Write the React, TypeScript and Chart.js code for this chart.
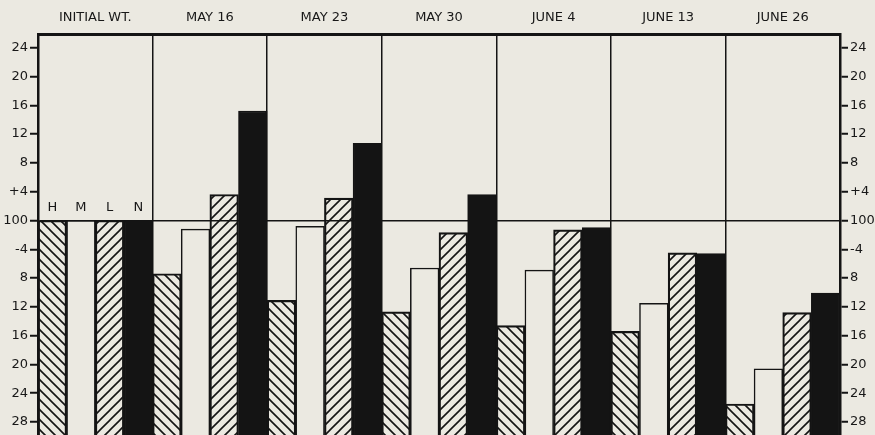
import React, { useEffect, useRef } from "react";
import { Chart, registerables } from "chart.js";

Chart.register(...registerables);

// ---- data ----
const categories = ["INITIAL WT.", "MAY 16", "MAY 23", "MAY 30", "JUNE 4", "JUNE 13", "JUNE 26"];
const seriesLabels = ["H", "M", "L", "N"];
const hValues = [0, -7.4, -11.1, -12.7, -14.6, -15.4, -25.5];
const mValues = [0, -1.2, -0.8, -6.6, -6.9, -11.5, -20.6];
const lValues = [0, 3.6, 3.1, -1.7, -1.3, -4.5, -12.8];
const nValues = [0, 15.2, 10.7, 3.6, -1.0, -4.6, -10.1];
const yTickValues = [24, 20, 16, 12, 8, 4, 0, -4, -8, -12, -16, -20, -24, -28];
const yTickLabels = ["24", "20", "16", "12", "8", "+4", "100", "-4", "8", "12", "16", "20", "24", "28"];
const yMin = -29.8;
const yMax = 25.9;

const BG = "#ebe9e1";
const INK = "#141414";
const TEXT = "#181818";
const FONT = "'DejaVu Sans', sans-serif";

function makeHatch(ctx: CanvasRenderingContext2D, dir: "back" | "fwd"): CanvasPattern {
  const s = 10;
  const c = document.createElement("canvas");
  c.width = s;
  c.height = s;
  const g = c.getContext("2d")!;
  g.strokeStyle = INK;
  g.lineWidth = 1.6;
  g.beginPath();
  if (dir === "back") {
    g.moveTo(-1, -1);
    g.lineTo(s + 1, s + 1);
    g.moveTo(-1, s - 1);
    g.lineTo(1, s + 1);
    g.moveTo(s - 1, -1);
    g.lineTo(s + 1, 1);
  } else {
    g.moveTo(-1, s + 1);
    g.lineTo(s + 1, -1);
    g.moveTo(-1, 1);
    g.lineTo(1, -1);
    g.moveTo(s - 1, s + 1);
    g.lineTo(s + 1, s - 1);
  }
  g.stroke();
  return ctx.createPattern(c, "repeat")!;
}

const labelFor = (v: number) => {
  const i = yTickValues.indexOf(v);
  return i >= 0 ? yTickLabels[i] : "";
};

export default function App() {
  const ref = useRef<HTMLCanvasElement | null>(null);

  useEffect(() => {
    document.body.style.margin = "0";
    document.body.style.background = BG;
    const canvas = ref.current!;
    const ctx = canvas.getContext("2d")!;
    const backHatch = makeHatch(ctx, "back");
    const fwdHatch = makeHatch(ctx, "fwd");

    const bgPlugin = {
      id: "bg",
      beforeDraw(chart: any) {
        const c = chart.ctx;
        c.save();
        c.fillStyle = BG;
        c.fillRect(0, 0, chart.width, chart.height);
        c.restore();
      },
    };

    const seriesTagPlugin = {
      id: "seriesTags",
      afterDatasetsDraw(chart: any) {
        const c = chart.ctx;
        const y0 = chart.scales.y.getPixelForValue(0);
        c.save();
        c.fillStyle = TEXT;
        c.font = `13px ${FONT}`;
        c.textAlign = "center";
        c.textBaseline = "bottom";
        chart.data.datasets.forEach((ds: any, i: number) => {
          const el = chart.getDatasetMeta(i).data[0];
          if (el) c.fillText(ds.label, el.x, y0 - 6);
        });
        c.restore();
      },
    };

    const common = {
      base: yMin,
      borderColor: INK,
      borderWidth: 1.5,
      categoryPercentage: 1,
      barPercentage: 1,
    };

    const yAxis = (pos: "left" | "right", width: number, onArea: boolean) => ({
      position: pos,
      min: yMin,
      max: yMax,
      afterBuildTicks: (s: any) => {
        s.ticks = yTickValues.map((v) => ({ value: v }));
      },
      afterFit: (s: any) => {
        s.width = width;
        s.paddingTop = 0;
        s.paddingBottom = 0;
      },
      ticks: {
        callback: (v: any) => labelFor(Number(v)),
        color: TEXT,
        font: { family: FONT, size: 13 },
        padding: 2,
      },
      grid: {
        drawOnChartArea: onArea,
        color: (c: any) => (c.tick && c.tick.value === 0 ? INK : "rgba(0,0,0,0)"),
        lineWidth: 1.5,
        tickLength: 8,
        tickColor: INK,
        tickWidth: 2,
      },
      border: { display: true, color: INK, width: 2.5 },
    });

    const chart = new Chart(canvas, {
      type: "bar",
      data: {
        labels: categories,
        datasets: [
          { ...common, label: seriesLabels[0], data: hValues, backgroundColor: backHatch },
          { ...common, label: seriesLabels[1], data: mValues, backgroundColor: BG },
          { ...common, label: seriesLabels[2], data: lValues, backgroundColor: fwdHatch },
          { ...common, label: seriesLabels[3], data: nValues, backgroundColor: INK },
        ] as any,
      },
      options: {
        animation: false,
        responsive: false,
        maintainAspectRatio: false,
        layout: { padding: 0 },
        plugins: { legend: { display: false }, tooltip: { enabled: false } },
        scales: {
          x: {
            position: "top",
            offset: true,
            afterFit: (s: any) => {
              s.height = 34;
              s.paddingLeft = 0;
              s.paddingRight = 0;
            },
            grid: { display: true, offset: true, color: INK, lineWidth: 1.5, drawTicks: false },
            border: { display: true, color: INK, width: 3 },
            ticks: {
              color: TEXT,
              font: { family: FONT, size: 13 },
              padding: 9,
              maxRotation: 0,
              autoSkip: false,
            },
          },
          y: yAxis("left", 38, true) as any,
          y2: yAxis("right", 35, false) as any,
        },
      },
      plugins: [bgPlugin, seriesTagPlugin],
    });

    return () => chart.destroy();
  }, []);

  return (
    <div style={{ width: 875, height: 435, background: BG }}>
      <canvas ref={ref} width={875} height={435} style={{ display: "block" }} />
    </div>
  );
}
